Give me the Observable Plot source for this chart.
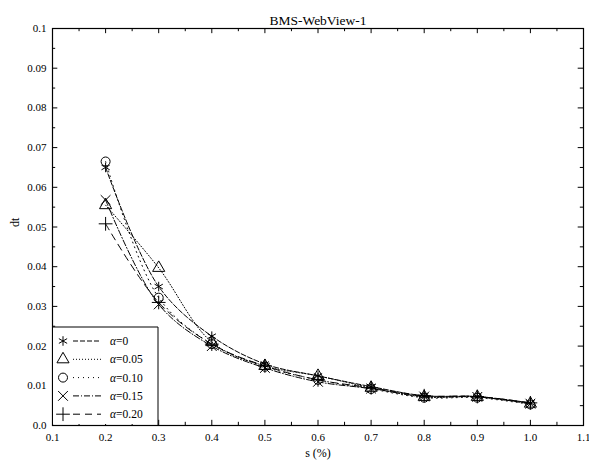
<!DOCTYPE html>
<html>
<head>
<meta charset="utf-8">
<script src="https://cdn.jsdelivr.net/npm/d3@7"></script>
<script src="https://cdn.jsdelivr.net/npm/@observablehq/plot@0.6"></script>
<style>
  html, body { margin: 0; padding: 0; background: #fff; }
  #wrap { position: relative; width: 589px; height: 465px; }
  #legend { position: absolute; left: 0; top: 0; }
  #wrap svg, #wrap svg text { font-family: "Liberation Serif", "Times New Roman", Times, serif !important; }
</style>
</head>
<body>
<div id="wrap"></div>
<script>
// ---- data ----
const sValues = [0.2, 0.3, 0.4, 0.5, 0.6, 0.7, 0.8, 0.9, 1.0];
const seriesNames = ["α=0", "α=0.05", "α=0.10", "α=0.15", "α=0.20"];
const dtAlpha0    = [0.0650, 0.0350, 0.0225, 0.0155, 0.0125, 0.0098, 0.0075, 0.0073, 0.0057];
const dtAlpha005  = [0.0555, 0.0397, 0.0210, 0.0150, 0.0125, 0.0095, 0.0072, 0.0072, 0.0055];
const dtAlpha010  = [0.0665, 0.0322, 0.0205, 0.0148, 0.0115, 0.0092, 0.0070, 0.0070, 0.0053];
const dtAlpha015  = [0.0568, 0.0305, 0.0200, 0.0145, 0.0110, 0.0093, 0.0073, 0.0072, 0.0055];
const dtAlpha020  = [0.0508, 0.0310, 0.0205, 0.0150, 0.0115, 0.0095, 0.0075, 0.0073, 0.0057];
const seriesValues = [dtAlpha0, dtAlpha005, dtAlpha010, dtAlpha015, dtAlpha020];
const symbols = ["asterisk", "triangle", "circle", "times", "plus"];
const dashes = ["5,2", "1,2", "1,4", "6,2,1,2", "7,5"];
const xTicks = [0.1, 0.2, 0.3, 0.4, 0.5, 0.6, 0.7, 0.8, 0.9, 1.0, 1.1];
const xMinorTicks = [0.15, 0.25, 0.35, 0.45, 0.55, 0.65, 0.75, 0.85, 0.95, 1.05];
const yTicks = [0, 0.01, 0.02, 0.03, 0.04, 0.05, 0.06, 0.07, 0.08, 0.09, 0.1];
const yMinorTicks = [0.005, 0.015, 0.025, 0.035, 0.045, 0.055, 0.065, 0.075, 0.085, 0.095];
const titleText = "BMS-WebView-1";
const xLabel = "s (%)";
const yLabel = "dt";

// ---- build table ----
const rows = [];
seriesValues.forEach((vals, i) => {
  vals.forEach((v, j) => rows.push({series: seriesNames[i], idx: i, s: sValues[j], dt: v}));
});

const W = 589, H = 465;
const mL = 52, mR = 6, mT = 28, mB = 40;
const font = "Liberation Serif, Times New Roman, Times, serif";

const marks = [];
// inward ticks
marks.push(Plot.ruleX(xTicks, {y1: 0, y2: 0.0013, stroke: "black", strokeWidth: 1}));
marks.push(Plot.ruleX(xMinorTicks, {y1: 0, y2: 0.0008, stroke: "black", strokeWidth: 1}));
marks.push(Plot.ruleX(xTicks, {y1: 0.1, y2: 0.1 - 0.0013, stroke: "black", strokeWidth: 1}));
marks.push(Plot.ruleX(xMinorTicks, {y1: 0.1, y2: 0.1 - 0.0008, stroke: "black", strokeWidth: 1}));
marks.push(Plot.ruleY(yTicks, {x1: 0.1, x2: 0.11, stroke: "black", strokeWidth: 1}));
marks.push(Plot.ruleY(yMinorTicks, {x1: 0.1, x2: 0.106, stroke: "black", strokeWidth: 1}));
marks.push(Plot.ruleY(yTicks, {x1: 1.1, x2: 1.09, stroke: "black", strokeWidth: 1}));
marks.push(Plot.ruleY(yMinorTicks, {x1: 1.1, x2: 1.094, stroke: "black", strokeWidth: 1}));

seriesNames.forEach((name, i) => {
  const d = rows.filter(r => r.idx === i);
  marks.push(Plot.line(d, {x: "s", y: "dt", stroke: "black", strokeWidth: 1, strokeDasharray: dashes[i], curve: "catmull-rom"}));
  marks.push(Plot.dot(d, {x: "s", y: "dt", symbol: () => symbols[i], r: 4.5, stroke: "black", strokeWidth: 1, fill: "none"}));
});

marks.push(Plot.frame({stroke: "black", strokeWidth: 1.2}));
marks.push(Plot.axisX({ticks: xTicks, tickSize: 0, tickPadding: 8, tickFormat: d3.format(".1f"), label: null, fontSize: 11}));
marks.push(Plot.axisY({ticks: yTicks, tickSize: 0, tickPadding: 6, tickFormat: d => d === 0 ? "0.0" : d3.format("~g")(d), label: null, fontSize: 11}));
marks.push(Plot.text([titleText], {frameAnchor: "top", dy: -13, text: d => d, fontSize: 13.5, fill: "black"}));
marks.push(Plot.text([xLabel], {frameAnchor: "bottom", dy: 31, text: d => d, fontSize: 12, fill: "black"}));
marks.push(Plot.text([yLabel], {frameAnchor: "left", dx: -37, rotate: -90, text: d => d, fontSize: 12, fill: "black"}));

const chart = Plot.plot({
  width: W, height: H,
  marginLeft: mL, marginRight: mR, marginTop: mT, marginBottom: mB,
  style: {fontFamily: font, fontSize: "11px", color: "black", background: "white"},
  x: {domain: [0.1, 1.1], axis: null},
  y: {domain: [0, 0.1], axis: null},
  symbol: {type: "identity"},
  marks
});
document.getElementById("wrap").appendChild(chart);

// ---- legend overlay (box in the lower-left of the frame) ----
const ns = "http://www.w3.org/2000/svg";
const leg = document.createElementNS(ns, "svg");
leg.setAttribute("id", "legend");
leg.setAttribute("width", W);
leg.setAttribute("height", H);
leg.setAttribute("font-family", font);
const boxL = mL, boxR = 158, boxT = 327, boxB = H - mB;
const box = document.createElementNS(ns, "path");
box.setAttribute("d", `M${boxL},${boxT}H${boxR}V${boxB}`);
box.setAttribute("fill", "none");
box.setAttribute("stroke", "black");
box.setAttribute("stroke-width", "1");
const bg = document.createElementNS(ns, "rect");
bg.setAttribute("x", boxL + 1); bg.setAttribute("y", boxT);
bg.setAttribute("width", boxR - boxL - 1); bg.setAttribute("height", boxB - boxT - 1);
bg.setAttribute("fill", "white");
leg.appendChild(bg);
leg.appendChild(box);
const rowY0 = 341, rowStep = 18.3;
const symMap = {asterisk: d3.symbolAsterisk, triangle: d3.symbolTriangle, circle: d3.symbolCircle, times: d3.symbolTimes, plus: d3.symbolPlus};
seriesNames.forEach((name, i) => {
  const y = rowY0 + i * rowStep;
  const g = document.createElementNS(ns, "path");
  const r = 4.5;
  g.setAttribute("d", d3.symbol(symMap[symbols[i]], Math.PI * r * r)());
  g.setAttribute("transform", `translate(63,${y})`);
  g.setAttribute("fill", "none");
  g.setAttribute("stroke", "black");
  leg.appendChild(g);
  const ln = document.createElementNS(ns, "line");
  ln.setAttribute("x1", 73); ln.setAttribute("x2", 101);
  ln.setAttribute("y1", y); ln.setAttribute("y2", y);
  ln.setAttribute("stroke", "black");
  ln.setAttribute("stroke-dasharray", dashes[i]);
  leg.appendChild(ln);
  const t = document.createElementNS(ns, "text");
  t.setAttribute("x", 110); t.setAttribute("y", y + 4);
  t.setAttribute("font-size", "11.5");
  const ta = document.createElementNS(ns, "tspan");
  ta.setAttribute("font-style", "italic");
  ta.textContent = name.slice(0, 1);
  const tr = document.createElementNS(ns, "tspan");
  tr.textContent = name.slice(1);
  t.appendChild(ta); t.appendChild(tr);
  leg.appendChild(t);
});
document.getElementById("wrap").appendChild(leg);
</script>
</body>
</html>
